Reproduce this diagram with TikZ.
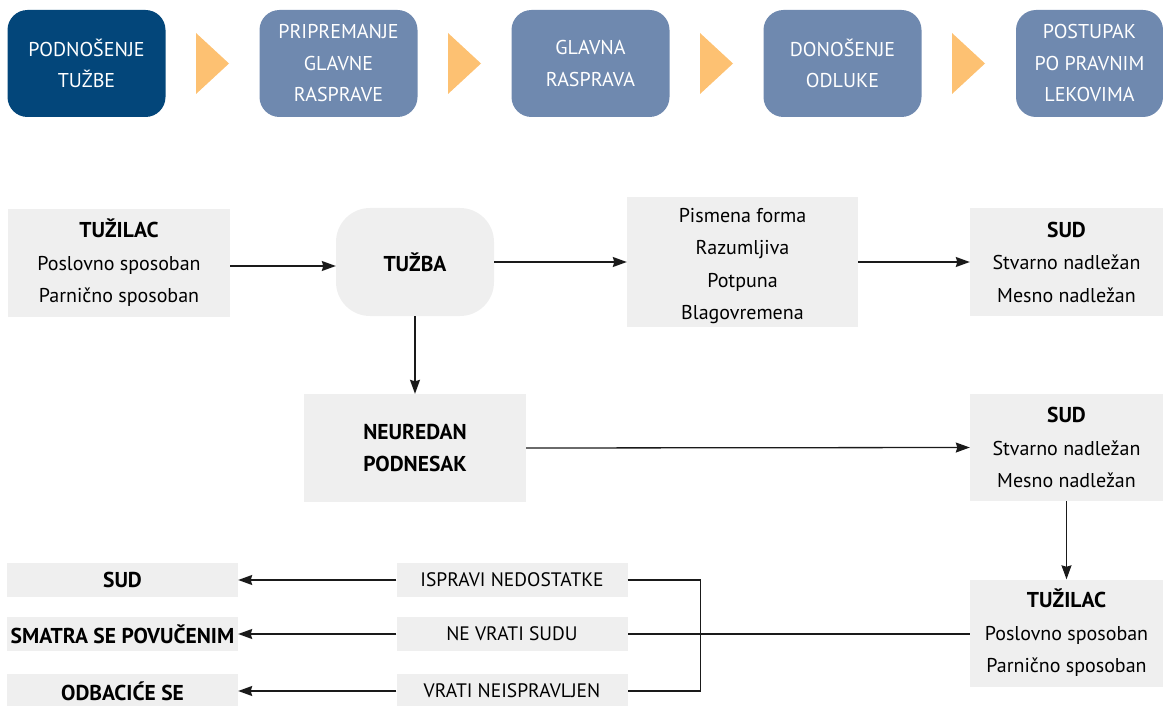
\documentclass[tikz,border=0pt]{standalone}
\usepackage{fontspec}
\setmainfont{PT Sans}
\usetikzlibrary{arrows.meta}
\definecolor{stepdark}{RGB}{3,70,122}
\definecolor{stepmid}{RGB}{111,137,175}
\definecolor{chevron}{RGB}{253,193,114}
\definecolor{panel}{RGB}{239,239,239}
\definecolor{ink}{RGB}{26,26,26}
% bold headings are set a little larger than the body text
\newcommand\hd[1]{{\fontsize{21.5}{32}\selectfont\bfseries #1}}
% taller first line, to lower a block of text inside its box
\newcommand\toppad{\rule{0pt}{22.5pt}}
\begin{document}
\begin{tikzpicture}[x=1pt,y=-1pt,
  stage/.style={fill=stepmid, rounded corners=20pt, minimum width=158pt,
    minimum height=107pt, inner sep=0pt, align=center, text=white,
    font=\fontsize{20}{31.5}\selectfont},
  chev/.style={fill=chevron},
  card/.style={fill=panel, inner sep=0pt, align=center, text=black,
    font=\fontsize{20}{32.5}\selectfont},
  strip/.style={fill=panel, inner sep=0pt, minimum width=231pt,
    minimum height=34pt, align=center, text=black,
    font=\fontsize{19.5}{22}\selectfont},
  conn/.style={draw=ink, line width=1.3pt},
  arr/.style={conn, -{Stealth[length=14pt,width=10pt,inset=1.5pt]}}
]
\useasboundingbox (0,0) rectangle (1163,706);

% process stages
\node[stage, fill=stepdark] (s1) at (86.5,63.5) {PODNOŠENJE\\TUŽBE};
\node[stage] (s2) at (338.5,63.5) {PRIPREMANJE\\GLAVNE\\RASPRAVE};
\node[stage] (s3) at (590.5,63.5) {GLAVNA\\RASPRAVA};
\node[stage] (s4) at (842.5,63.5) {DONOŠENJE\\ODLUKE};
\node[stage, minimum width=147pt] (s5) at (1089.5,63.5) {POSTUPAK\\PO PRAVNIM\\LEKOVIMA};

% chevrons between stages
\foreach \x in {196,448,700,952}
  \fill[chev] (\x,33) -- (\x+33,63.5) -- (\x,94) -- cycle;

% filing of the claim
\node[card, minimum width=222pt, minimum height=108pt] (tuz1) at (119,263)
  {\hd{TUŽILAC}\\Poslovno sposoban\\Parnično sposoban};
\node[card, rounded corners=34pt, minimum width=158pt, minimum height=108pt] (tuzba) at (415,262)
  {\hd{TUŽBA}};
\node[card, minimum width=231pt, minimum height=130pt] (forma) at (742.5,262)
  {\toppad Pismena forma\\Razumljiva\\Potpuna\\Blagovremena};
\node[card, minimum width=193pt, minimum height=108pt] (sud1) at (1066.5,262)
  {\hd{SUD}\\Stvarno nadležan\\Mesno nadležan};

\node[card, minimum width=222pt, minimum height=108pt] (neur) at (415,448)
  {\hd{NEUREDAN}\\\hd{PODNESAK}};
\node[card, minimum width=193pt, minimum height=107pt] (sud2) at (1066.5,447.5)
  {\hd{SUD}\\Stvarno nadležan\\Mesno nadležan};
\node[card, minimum width=193pt, minimum height=107pt] (tuz2) at (1066.5,633)
  {\hd{TUŽILAC}\\Poslovno sposoban\\Parnično sposoban};

% outcomes
\node[strip] (m1) at (512,580) {ISPRAVI NEDOSTATKE};
\node[strip] (m2) at (512,634) {NE VRATI SUDU};
\node[strip] (m3) at (512,691) {VRATI NEISPRAVLJEN};
\node[strip] (l1) at (122.5,580) {\hd{SUD}};
\node[strip] (l2) at (122.5,634) {\hd{SMATRA SE POVUČENIM}};
\node[strip] (l3) at (122.5,691) {\hd{ODBACIĆE SE}};

% connectors
\draw[arr] (tuz1.east |- 0,266) -- (tuzba.west |- 0,266);
\draw[arr] (tuzba.east) -- (forma.west);
\draw[arr] (forma.east) -- (sud1.west);
\draw[arr] (tuzba.south) -- (neur.north);
\draw[arr] (neur.east) -- (sud2.west);
\draw[arr] (sud2.south) -- (tuz2.north);
\draw[conn] (tuz2.west |- m2.east) -- (m2.east);
\draw[conn] (m1.east) -- ++(73,0) |- (m3.east);
\draw[arr] (m1.west) -- (l1.east);
\draw[arr] (m2.west) -- (l2.east);
\draw[arr] (m3.west) -- (l3.east);
\end{tikzpicture}
\end{document}
